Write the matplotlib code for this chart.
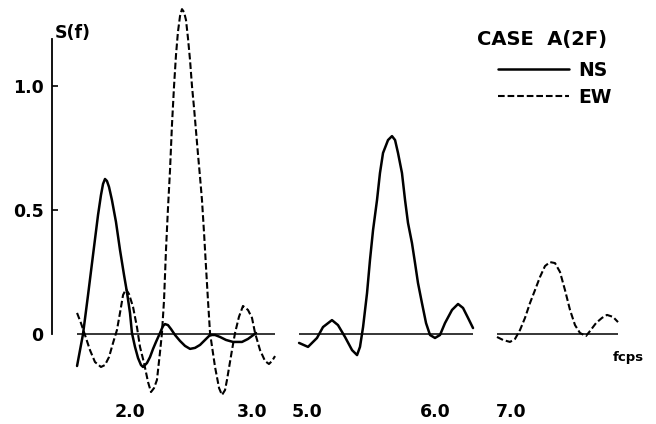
"""
plot.py - spectra S(f) for case A(2F), NS and EW components on a broken
frequency axis (three separate frequency bands).
"""
import matplotlib
matplotlib.use("Agg")
import matplotlib.pyplot as plt

# band 1 (about 1.6 - 3.2): both components
F1_NS = [1.566, 1.615, 1.656, 1.697, 1.738, 1.762, 1.779, 1.795, 1.811, 1.828,
         1.852, 1.885, 1.918, 1.951, 1.975, 2.000, 2.016, 2.041, 2.066, 2.090,
         2.107, 2.139, 2.164, 2.189, 2.213, 2.246, 2.270, 2.287, 2.311, 2.336,
         2.369, 2.410, 2.451, 2.492, 2.533, 2.574, 2.615, 2.656, 2.697, 2.738,
         2.787, 2.844, 2.918, 2.967, 3.000, 3.033]
S1_NS = [-0.129, 0.000, 0.157, 0.319, 0.480, 0.560, 0.605, 0.625, 0.617, 0.593,
         0.540, 0.452, 0.339, 0.238, 0.169, 0.085, 0.004, -0.052, -0.097, -0.125,
         -0.133, -0.117, -0.093, -0.060, -0.032, 0.004, 0.032, 0.040, 0.036, 0.020,
         -0.004, -0.028, -0.048, -0.060, -0.056, -0.044, -0.024, -0.004, -0.004, -0.012,
         -0.024, -0.032, -0.032, -0.020, -0.008, 0.004]

F1_EW = [1.566, 1.598, 1.631, 1.672, 1.713, 1.762, 1.795, 1.828, 1.861, 1.893,
         1.918, 1.943, 1.967, 1.992, 2.025, 2.057, 2.082, 2.115, 2.148, 2.172,
         2.197, 2.221, 2.246, 2.262, 2.279, 2.295, 2.311, 2.328, 2.344, 2.361,
         2.377, 2.393, 2.410, 2.426, 2.443, 2.459, 2.475, 2.492, 2.508, 2.525,
         2.541, 2.557, 2.574, 2.590, 2.607, 2.623, 2.639, 2.656, 2.697, 2.730,
         2.754, 2.779, 2.795, 2.836, 2.861, 2.893, 2.926, 2.967, 3.000, 3.025,
         3.066, 3.107, 3.139, 3.164, 3.189]
S1_EW = [0.085, 0.044, -0.004, -0.065, -0.113, -0.133, -0.125, -0.093, -0.036, 0.016,
         0.085, 0.157, 0.181, 0.161, 0.109, 0.028, -0.052, -0.117, -0.194, -0.234,
         -0.218, -0.185, -0.073, 0.004, 0.137, 0.339, 0.504, 0.661, 0.843, 1.000,
         1.125, 1.218, 1.282, 1.310, 1.298, 1.266, 1.194, 1.105, 1.000, 0.911,
         0.819, 0.726, 0.633, 0.540, 0.407, 0.270, 0.137, 0.004, -0.133, -0.218,
         -0.246, -0.226, -0.185, -0.065, 0.004, 0.069, 0.113, 0.097, 0.065, 0.004,
         -0.065, -0.109, -0.121, -0.109, -0.089]

# band 2 (about 4.9 - 6.3): NS only
F2_NS = [4.938, 5.008, 5.078, 5.125, 5.195, 5.242, 5.297, 5.352, 5.391, 5.414,
         5.438, 5.469, 5.492, 5.516, 5.547, 5.570, 5.594, 5.633, 5.664, 5.688,
         5.711, 5.742, 5.766, 5.789, 5.820, 5.844, 5.867, 5.898, 5.930, 5.961,
         6.000, 6.039, 6.078, 6.133, 6.180, 6.219, 6.258, 6.297]
S2_NS = [-0.036, -0.052, -0.016, 0.028, 0.056, 0.036, -0.012, -0.065, -0.085, -0.052,
         0.028, 0.165, 0.298, 0.419, 0.540, 0.649, 0.730, 0.782, 0.798, 0.782,
         0.730, 0.649, 0.540, 0.448, 0.367, 0.286, 0.206, 0.125, 0.044, -0.004,
         -0.016, -0.004, 0.044, 0.097, 0.121, 0.105, 0.065, 0.024]

# band 3 (about 6.9 - 7.9): EW only
F3_EW = [6.888, 6.936, 6.992, 7.032, 7.072, 7.112, 7.152, 7.192, 7.232, 7.272,
         7.312, 7.352, 7.392, 7.432, 7.472, 7.512, 7.552, 7.600, 7.632, 7.680,
         7.728, 7.768, 7.816, 7.856]
S3_EW = [-0.012, -0.024, -0.032, -0.020, 0.016, 0.065, 0.125, 0.177, 0.230, 0.274,
         0.290, 0.286, 0.250, 0.177, 0.097, 0.036, 0.004, -0.008, 0.012, 0.044,
         0.065, 0.077, 0.069, 0.048]

XTICKS = [[2.0, 3.0], [5.0, 6.0], [7.0]]
XTICK_LABELS = [["2.0", "3.0"], ["5.0", "6.0"], ["7.0"]]
YTICKS = [0, 0.5, 1.0]
YTICK_LABELS = ["0", "0.5", "1.0"]

# ---- layout (pixels of a 656x424 canvas) ----
W, H = 656, 424
ZERO_PX, PX_PER_S = 334, 248
YLIM = (-0.28, 1.34)
# (left px, right px, ref px, ref freq, px per unit freq)
BANDS = [(52, 280, 130, 2.0, 122),
         (290, 482, 307, 5.0, 128),
         (490, 650, 511, 7.0, 125)]

FONT = "DejaVu Sans"
NS_STYLE = dict(color="black", lw=1.8, solid_capstyle="round")
EW_STYLE = dict(color="black", lw=1.5, linestyle=(0, (3.2, 1.4)))

fig = plt.figure(figsize=(W / 100, H / 100), dpi=100)
top_px = ZERO_PX - YLIM[1] * PX_PER_S
bot_px = ZERO_PX - YLIM[0] * PX_PER_S

axes = []
for left, right, ref_px, ref_f, scale in BANDS:
    ax = fig.add_axes([left / W, (H - bot_px) / H, (right - left) / W,
                       (bot_px - top_px) / H])
    ax.set_xlim(ref_f + (left - ref_px) / scale, ref_f + (right - ref_px) / scale)
    ax.set_ylim(*YLIM)
    ax.patch.set_visible(False)
    for sp in ax.spines.values():
        sp.set_visible(False)
    ax.set_yticks([])
    axes.append(ax)

series = [(0, F1_NS, S1_NS, NS_STYLE), (0, F1_EW, S1_EW, EW_STYLE),
          (1, F2_NS, S2_NS, NS_STYLE), (2, F3_EW, S3_EW, EW_STYLE)]
handles = {}
for i, f, s, style in series:
    (ln,) = axes[i].plot(f, s, clip_on=False, **style)
    handles.setdefault(id(style), ln)

# zero baselines spanning each band's data
for ax, f in zip(axes, [F1_EW, F2_NS, F3_EW]):
    ax.hlines(0, min(f), max(f), color="black", lw=1.1)

for ax, ticks, labels in zip(axes, XTICKS, XTICK_LABELS):
    ax.set_xticks(ticks)
    ax.set_xticklabels(labels, fontsize=12.5, fontweight="bold", family=FONT)
    ax.tick_params(axis="x", length=0, pad=0)

# vertical S axis on the first band
ax1 = axes[0]
ax1.spines["left"].set_visible(True)
ax1.spines["left"].set_linewidth(1.3)
ax1.spines["left"].set_bounds(0, 1.19)
ax1.set_yticks(YTICKS)
ax1.set_yticklabels(YTICK_LABELS, fontsize=12.5, fontweight="bold", family=FONT)
ax1.tick_params(axis="y", direction="in", length=4, width=1.2, pad=6)
ax1.yaxis.get_major_ticks()[0].tick1line.set_visible(False)

fig.text(55 / W, 1 - 33 / H, "S(f)", fontsize=12.5, fontweight="bold",
         family=FONT, ha="left", va="center")
fig.text(613 / W, 1 - 357 / H, "fcps", fontsize=9.5, fontweight="bold",
         family=FONT, ha="left", va="center")

# legend: heading plus the two line keys
fig.text(542 / W, 1 - 39 / H, "CASE  A(2F)", fontsize=14, fontweight="bold",
         family=FONT, ha="center", va="center")
leg = fig.legend([handles[id(NS_STYLE)], handles[id(EW_STYLE)]], ["NS", "EW"],
                 loc="upper right", bbox_to_anchor=(612 / W, 1 - 61 / H),
                 frameon=False, prop=dict(family=FONT, weight="bold", size=13.5),
                 handlelength=3.8, handletextpad=0.5, labelspacing=0.42,
                 borderpad=0, borderaxespad=0)

fig.savefig("out.png", dpi=100)
